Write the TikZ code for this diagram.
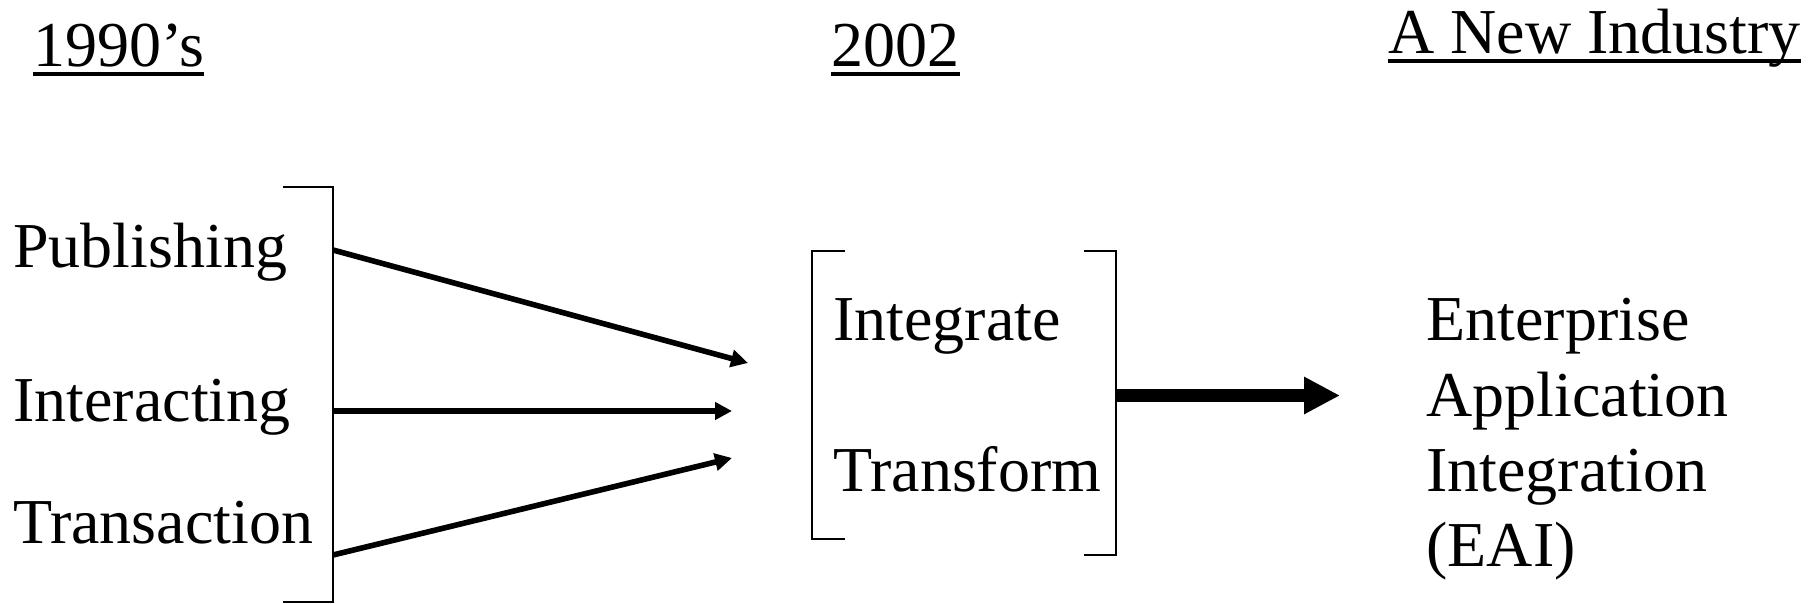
\documentclass[tikz,border=0pt]{standalone}
\usepackage{fontspec}
\setmainfont{Liberation Serif}
\usetikzlibrary{arrows.meta}
\begin{document}
\begin{tikzpicture}[x=0.5pt,y=-0.5pt,
  lbl/.style={inner sep=0pt,anchor=base west,font=\fontsize{32}{38}\selectfont},
  bracketline/.style={line width=0.8pt,line cap=butt},
  uline/.style={line width=2pt},
  feed/.style={line width=2.8pt,-{Triangle[length=8.5pt,width=8.5pt]}},
  bigarrow/.style={line width=6.2pt,-{Triangle[length=18pt,width=17.5pt]}}]
\useasboundingbox (0,0) rectangle (1810,604);

% column headings
\node[lbl] (h1) at (33,67) {1990’s};
\node[lbl] (h2) at (831,67) {2002};
\node[lbl] (h3) at (1388,54) {A New Industry};
\foreach \h in {h1,h2,h3}
  \draw[uline] ([yshift=-3.7pt]\h.base west) -- ([yshift=-3.7pt]\h.base east);

% left column
\node[lbl] (pub) at (13,268) {Publishing};
\node[lbl] (inter) at (13,421) {Interacting};
\node[lbl] (trans) at (13,543) {Transaction};
\draw[bracketline] (283,187) -- (333,187) -- (333,602) -- (283,602);
\coordinate (s1) at (333,250);
\coordinate (s2) at (333,411);
\coordinate (s3) at (333,555);

% middle column
\node[lbl] (integ) at (833,341) {Integrate};
\node[lbl] (transf) at (833,491) {Transform};
\draw[bracketline] (845,251) -- (812,251) -- (812,539) -- (845,539);
\draw[bracketline] (1084,251) -- (1116,251) -- (1116,555) -- (1084,555);
\coordinate (t1) at (748,363);
\coordinate (t2) at (732,411);
\coordinate (t3) at (732,458);
\coordinate (m) at (1116,395.5);

% right column
\node[lbl] (e1) at (1426,341) {Enterprise};
\node[lbl] (e2) at (1426,416) {Application};
\node[lbl] (e3) at (1426,491) {Integration};
\node[lbl] (e4) at (1426,566) {(EAI)};
\coordinate (r) at (1340,395.5);

% connectors
\draw[feed] (s1) -- (t1);
\draw[feed] (s2) -- (t2);
\draw[feed] (s3) -- (t3);
\draw[bigarrow] (m) -- (r);
\end{tikzpicture}
\end{document}
